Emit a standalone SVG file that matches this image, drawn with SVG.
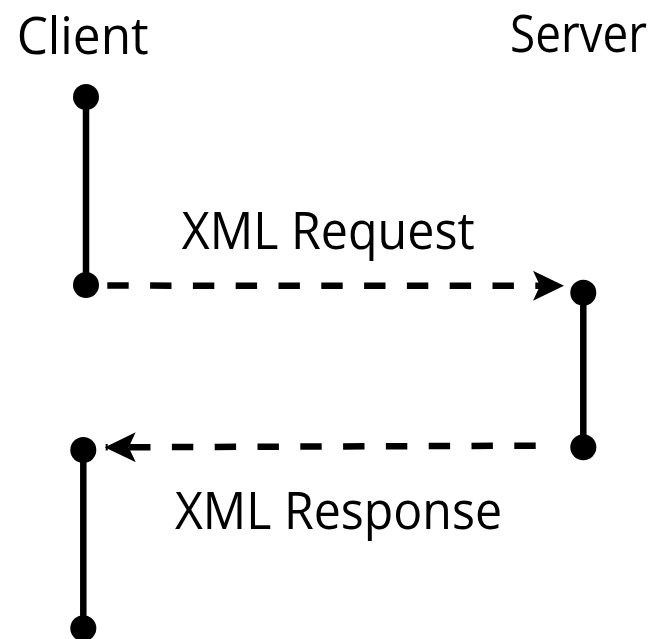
<svg xmlns="http://www.w3.org/2000/svg" width="657" height="639" viewBox="0 0 657 639">
<style>
  .lbl { font-family: "Open Sans", "Noto Sans", sans-serif; font-size: 51px; fill: #000; }
  .life { stroke: #000; stroke-width: 6.5; fill: none; }
  .dot { fill: #000; }
  .msg { stroke: #000; stroke-width: 6.5; fill: none; stroke-dasharray: 21.4 21.4; }
</style>
<defs>
  <marker id="arrow" markerUnits="userSpaceOnUse" viewBox="0 0 31 30" refX="30" refY="15" markerWidth="31" markerHeight="30" orient="auto">
    <path d="M0,0 L31,15 L0,30 L7,15 Z" fill="#000"/>
  </marker>
</defs>
<rect width="657" height="639" fill="#fff"/>
<g id="client-label"><text class="lbl" x="16.7" y="54.3" textLength="132" lengthAdjust="spacingAndGlyphs">Client</text></g>
<g id="server-label"><text class="lbl" x="510" y="52" textLength="137" lengthAdjust="spacingAndGlyphs">Server</text></g>
<g id="client-activation-1">
  <line class="life" x1="86" y1="97" x2="86" y2="285"/>
  <circle class="dot" cx="86" cy="97" r="13"/>
  <circle class="dot" cx="86" cy="285" r="13"/>
</g>
<g id="server-activation">
  <line class="life" x1="583.3" y1="292.7" x2="583.3" y2="447.3"/>
  <circle class="dot" cx="583.3" cy="292.7" r="13"/>
  <circle class="dot" cx="583.3" cy="447.3" r="13"/>
</g>
<g id="client-activation-2">
  <line class="life" x1="83.3" y1="450" x2="83.3" y2="628.3"/>
  <circle class="dot" cx="83.3" cy="450" r="13"/>
  <circle class="dot" cx="83.3" cy="628.3" r="13"/>
</g>
<g id="connectors">
  <path class="msg" d="M107.3,285.6 L563,285.8" marker-end="url(#arrow)"/>
  <path class="msg" d="M535.7,445.7 L105.7,447.3" marker-end="url(#arrow)"/>
</g>
<g id="request-label"><text class="lbl" x="181.7" y="249.3" textLength="293" lengthAdjust="spacingAndGlyphs">XML Request</text></g>
<g id="response-label"><text class="lbl" x="175" y="529.3" textLength="327" lengthAdjust="spacingAndGlyphs">XML Response</text></g>
</svg>
